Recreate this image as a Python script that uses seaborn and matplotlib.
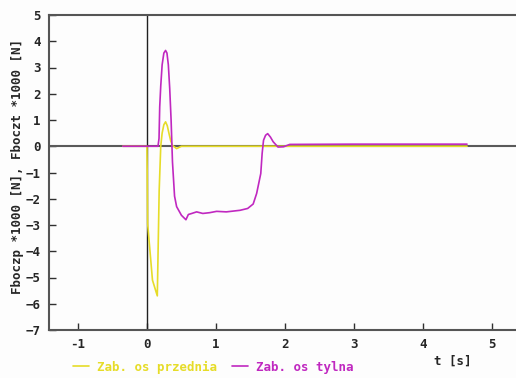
import numpy as np
import pandas as pd
import seaborn as sns
import matplotlib
matplotlib.use("Agg")
import matplotlib.pyplot as plt

# czas [s] i sily boczne (*1000 N)
t_przod = [-0.35, 0.0, 0.01, 0.08, 0.15, 0.177, 0.20, 0.22, 0.245, 0.27,
           0.295, 0.32, 0.345, 0.37, 0.43, 0.50, 4.64]
f_przod = [0.0, 0.0, -2.95, -5.1, -5.7, -1.7, 0.0, 0.5, 0.82, 0.93,
           0.78, 0.48, 0.2, 0.03, -0.09, 0.0, 0.0]

t_tyl = [-0.35, 0.16, 0.175, 0.185, 0.20, 0.22, 0.245, 0.27, 0.29, 0.31,
         0.33, 0.35, 0.37, 0.40, 0.43, 0.50, 0.565, 0.60, 0.65, 0.72, 0.81,
         0.91, 1.01, 1.15, 1.35, 1.46, 1.54, 1.59, 1.65, 1.67, 1.69, 1.72,
         1.75, 1.79, 1.83, 1.90, 1.98, 2.07, 3.0, 4.64]
f_tyl = [0.0, 0.0, 0.3, 1.5, 2.3, 3.1, 3.55, 3.65, 3.55, 3.1,
         2.2, 1.0, -0.6, -1.9, -2.3, -2.63, -2.8, -2.6, -2.56, -2.5, -2.56,
         -2.53, -2.48, -2.5, -2.44, -2.37, -2.2, -1.8, -1.04, -0.27, 0.23, 0.42,
         0.48, 0.35, 0.17, -0.03, -0.02, 0.07, 0.08, 0.08]

x_ticks = [-1, 0, 1, 2, 3, 4, 5]
y_ticks = [5, 4, 3, 2, 1, 0, -1, -2, -3, -4, -5, -6, -7]

lab_przod = "Zab. os przednia"
lab_tyl = "Zab. os tylna"
kol_przod = "#e6dc28"
kol_tyl = "#c028c0"

sns.set_style("white")
plt.rcParams["font.family"] = ["DejaVu Sans Mono"]
plt.rcParams["font.weight"] = "bold"

df1 = pd.DataFrame({"t": t_przod, "F": f_przod})
df2 = pd.DataFrame({"t": t_tyl, "F": f_tyl})

fig = plt.figure(figsize=(5.16, 3.78), dpi=100, facecolor="#fdfdfd")
ax = fig.add_axes([49 / 516, 1 - 330 / 378, 1 - 49 / 516, (330 - 15) / 378])
ax.set_facecolor("#fdfdfd")

ax.axhline(0, color="#5a5a5a", lw=1.5, zorder=1)
ax.axvline(0, color="#202020", lw=1.0, zorder=1)

sns.lineplot(data=df1, x="t", y="F", ax=ax, color=kol_przod, lw=1.2,
             label=lab_przod, sort=False, zorder=3)
sns.lineplot(data=df2, x="t", y="F", ax=ax, color=kol_tyl, lw=1.2,
             label=lab_tyl, sort=False, zorder=4)

ax.set_xlim(-1.42, 5.35)
ax.set_ylim(-7, 5)
ax.set_xticks(x_ticks)
ax.set_yticks(y_ticks)
ax.set_xticklabels([str(v) for v in x_ticks], fontsize=9, fontweight="bold")
ax.set_yticklabels([str(v).replace("-", "\u2212") for v in y_ticks],
                   fontsize=9, fontweight="bold")
ax.tick_params(direction="in", length=5, width=1, color="#303030",
               bottom=True, left=True, pad=6)
for s in ["left", "bottom", "top"]:
    ax.spines[s].set_color("#555555")
    ax.spines[s].set_linewidth(1.5)
ax.spines["right"].set_visible(False)
ax.set_xlabel("")
ax.set_ylabel("")

fig.text(0.034, 1 - 166 / 378, "Fboczp *1000 [N], Fboczt *1000 [N]",
         rotation=90, ha="center", va="center", fontsize=9, fontweight="bold")
fig.text(453 / 516, 1 - 361 / 378, "t [s]", ha="center", va="center",
         fontsize=9, fontweight="bold")

ax.get_legend().remove()
h, l = ax.get_legend_handles_labels()
fig.legend(h, l, loc="center left", bbox_to_anchor=(0.12, 1 - 367 / 378),
           ncol=2, frameon=False, handlelength=1.3, handletextpad=0.6,
           columnspacing=1.2, labelcolor="linecolor",
           prop={"family": "DejaVu Sans Mono", "size": 9, "weight": "bold"})

fig.savefig("out.png", dpi=100, facecolor=fig.get_facecolor())
